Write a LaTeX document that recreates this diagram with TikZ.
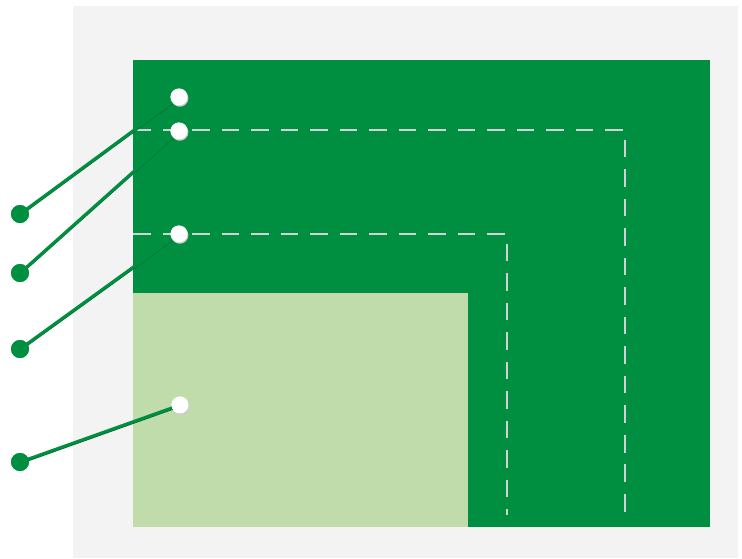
\documentclass[tikz,border=0pt]{standalone}
\usepackage{tikz}
\definecolor{leaf}{HTML}{008F40}
\definecolor{leaflt}{HTML}{C1DCAB}
\definecolor{paper}{HTML}{F3F3F3}
\definecolor{seamgray}{HTML}{D2D2D2}
\tikzset{fig/.style={line join=round,x=0.02cm,y=-0.02cm},
  pin/.style={circle,fill=white,inner sep=0pt,minimum size=0.34cm},
  tag/.style={circle,fill=leaf,inner sep=0pt,minimum size=0.36cm},
  lead/.style={leaf,line width=1.7pt},
  leadshade/.style={leaf!72!black,line width=1.3pt},
  cut/.style={seamgray,line width=1.6pt,dash pattern=on 10pt off 6.8pt}}

\begin{document}
\begin{tikzpicture}[fig]
  \useasboundingbox (0,0) rectangle (742,558);
  \fill[paper](73,6)rectangle(738,558);
  \fill[leaf](133,60)rectangle(710,527);
  \fill[leaflt](133,293)rectangle(468,527);
  \draw[cut](133,130)--(625,130)--(625,512);
  \draw[cut](133,234)--(507,234)--(507,515);
  % points on the plan
  \node[pin](p1)at(179,97){};
  \node[pin](p2)at(179,131){};
  \node[pin](p3)at(179,234){};
  \node[pin](p4)at(180,405){};
  % callout ends
  \node[tag](t1)at(20,214){};
  \node[tag](t2)at(20,273){};
  \node[tag](t3)at(20,349){};
  \node[tag](t4)at(20,462){};
  \foreach \i in {1,...,4}{
    \draw[leadshade]([yshift=-0.6pt]t\i.center)--([yshift=-0.6pt]p\i.center);
    \draw[lead](t\i.center)--(p\i.center);}
  \foreach \i in {1,...,4}{
    \node[pin,fill=black!20]at([xshift=0.5pt,yshift=-0.7pt]p\i){};
    \node[pin]at(p\i){};
    \node[tag]at(t\i){};}
\end{tikzpicture}
\end{document}
